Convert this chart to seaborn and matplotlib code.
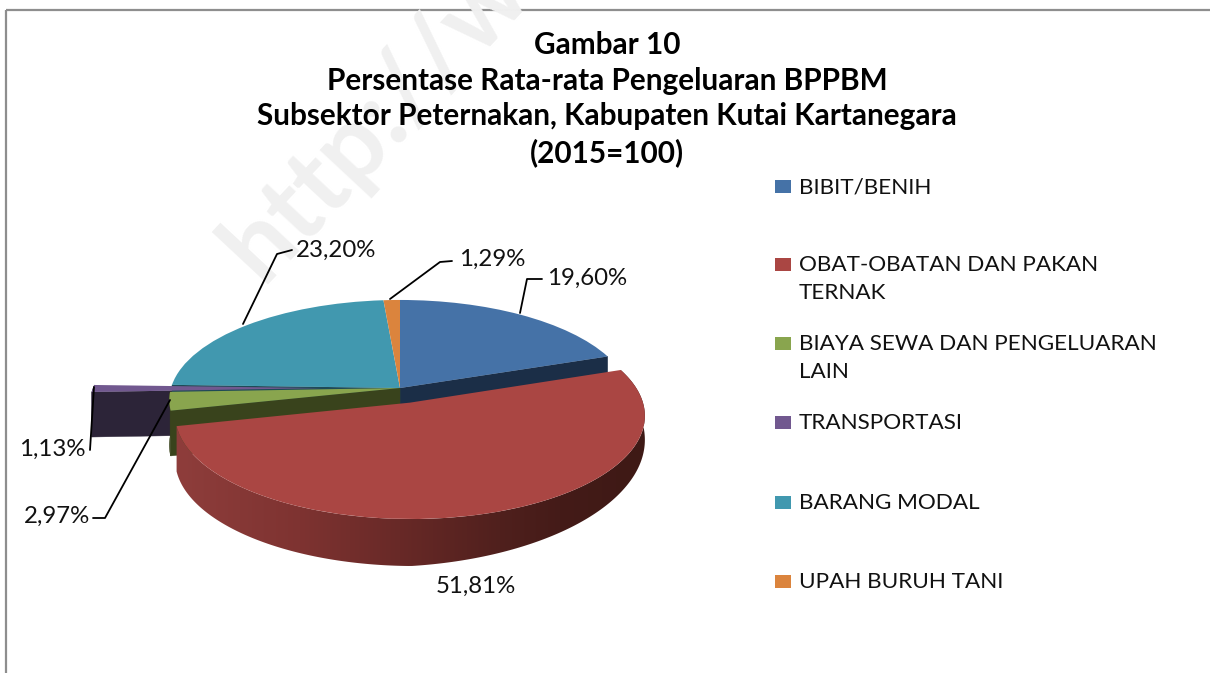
import numpy as np
import matplotlib
matplotlib.use("Agg")
import matplotlib.pyplot as plt
from matplotlib.transforms import Transform
from matplotlib.patches import Rectangle, Polygon
import seaborn as sns

categories = ["BIBIT/BENIH", "OBAT-OBATAN DAN PAKAN\nTERNAK",
              "BIAYA SEWA DAN PENGELUARAN\nLAIN", "TRANSPORTASI",
              "BARANG MODAL", "UPAH BURUH TANI"]
values = [19.60, 51.81, 2.97, 1.13, 23.20, 1.29]
explode = [0, 0.152, 0, 0.34, 0, 0]
top_colors = ["#4572A7", "#AA4643", "#89A54E", "#71588F", "#4198AF", "#DB843D"]
wall_colors = ["#1B2E47", "#8A3A38", "#39431C", "#2C2438", "#1F4A56", "#6B3F1C"]
title_text = ("Gambar 10\nPersentase Rata-rata Pengeluaran BPPBM\n"
              "Subsektor Peternakan, Kabupaten Kutai Kartanegara\n(2015=100)")

CX, CY, RX, RY, K = 400.0, 388.0, 229.0, 98.6, 0.12

sns.set_theme(style="white")
plt.rcParams["font.family"] = ["Lato", "DejaVu Sans"]


class Perspective(Transform):
    input_dims = 2
    output_dims = 2
    is_separable = False
    has_inverse = False

    def transform_non_affine(self, xy):
        xy = np.asarray(xy, float)
        w = 1 + K * xy[:, 1]
        return np.column_stack([CX + RX * xy[:, 0] / w, CY - RY * xy[:, 1] / w])


persp = Perspective()
fig = plt.figure(figsize=(12.10, 6.73), dpi=100, facecolor="white")
ax = fig.add_axes([0, 0, 1, 1])

wedges, _ = ax.pie(values, explode=explode, startangle=90, counterclock=False,
                   colors=sns.color_palette(top_colors), radius=1,
                   wedgeprops=dict(linewidth=0))
ax.set_aspect("auto")
ax.axis("off")

# Frame
ax.add_patch(Rectangle((6, 10), 1400, 900, fill=False, ec="#8E8E8E", lw=1.6, zorder=0))

# Watermark
ax.text(262, 284, "http://w", rotation=47, rotation_mode="anchor", ha="left", va="baseline",
        fontsize=74, fontweight="bold", color="#F0F0F0", zorder=0.5, clip_on=True)


def depth(theta):
    return np.interp(theta, [-180, -90, -30, 0, 20], [45, 47, 30, 22, 18])


def proj(u, v):
    return persp.transform_non_affine(np.column_stack([u, v]))


bounds = 90 - np.cumsum([0] + values) * 3.6
mids = (bounds[:-1] + bounds[1:]) / 2
offsets = [(e * np.cos(np.radians(m)), e * np.sin(np.radians(m))) for e, m in zip(explode, mids)]


def cut_wall(i, theta, z):
    ou, ov = offsets[i]
    t = np.linspace(0, 1, 30)
    a = np.radians(theta)
    pts = proj(ou + t * np.cos(a), ov + t * np.sin(a))
    d = 17 + (depth(theta) - 17) * np.minimum(1, 2 * t)
    xs = np.r_[pts[:, 0], pts[::-1, 0]]
    ys = np.r_[pts[:, 1], (pts[:, 1] + d)[::-1]]
    ax.fill(xs, ys, color=wall_colors[i], lw=0.3, zorder=z)


def rim_polygon(i):
    ou, ov = offsets[i]
    th = np.linspace(bounds[i], bounds[i + 1], 240)
    a = np.radians(th)
    pts = proj(ou + np.cos(a), ov + np.sin(a))
    lower = pts + np.column_stack([np.zeros_like(th), depth(th)])
    return np.vstack([pts, lower[::-1]])


def rim_wall(i, z):
    p = rim_polygon(i)
    ax.fill(p[:, 0], p[:, 1], color=wall_colors[i], lw=0.3, zorder=z)


def red_gradient(z):
    stops = np.array([180, 300, 400, 500, 560, 645])
    xs = np.arange(170, 651)
    rgb = np.column_stack([
        np.interp(xs, stops, [0x8E, 0x7E, 0x68, 0x50, 0x44, 0x3E]),
        np.interp(xs, stops, [0x3D, 0x33, 0x29, 0x20, 0x1B, 0x19]),
        np.interp(xs, stops, [0x3B, 0x31, 0x27, 0x1D, 0x18, 0x15]),
    ]) / 255
    im = ax.imshow(rgb[np.newaxis, :, :], extent=(170, 650, 600, 350), aspect="auto",
                   interpolation="bilinear", zorder=z)
    clip = Polygon(rim_polygon(1), closed=True, transform=ax.transData)
    im.set_clip_path(clip)


# Painter's order: back walls first
cut_wall(0, bounds[1], 2)
cut_wall(3, bounds[3], 2)
rim_wall(3, 2)
cut_wall(4, bounds[4], 2.5)
cut_wall(2, bounds[2], 3)
rim_wall(2, 3)

order_z = {4: 4, 5: 4, 0: 4, 3: 4.5, 2: 5, 1: 7}
for i, w in enumerate(wedges):
    w.set_transform(persp + ax.transData)
    w.set_zorder(order_z[i])
red_gradient(6)

ax.set_xlim(0, 1210)
ax.set_ylim(673, 0)

# Data labels and leader lines
labels = [f"{v:.2f}%".replace(".", ",") for v in values]
label_fs = 17.3
label_pos = [(547, 278, "left"), (476, 586, "center"), (90, 516, "right"),
             (86, 449, "right"), (296, 250, "left"), (459, 259, "left")]
leaders = [([520, 527, 542], [313, 279, 279]), None,
           ([170, 105, 93], [400, 518, 518]), ([94, 90], [387, 450]),
           ([243, 277, 292], [324, 254, 250]), ([390, 440, 452], [299, 262, 261])]
for lab, (x, y, ha), ld in zip(labels, label_pos, leaders):
    ax.text(x, y, lab, ha=ha, va="center", fontsize=label_fs, color="#111111", zorder=9)
    if ld:
        ax.plot(ld[0], ld[1], color="black", lw=1.3, zorder=8)

# Legend
leg_y = [186, 264, 343, 422, 502, 581]
for c, lab, y in zip(top_colors, categories, leg_y):
    ax.add_patch(Rectangle((775, y - 6), 16, 13, fc=c, ec="none", zorder=9))
    ax.text(799, y - 9, lab, ha="left", va="top", fontsize=16.2, color="#111111",
            linespacing=1.52, zorder=9)

# Title
ax.text(607, 99, title_text, ha="center", va="center", fontsize=21.4, fontweight="bold",
        color="black", linespacing=1.33, zorder=9)

fig.savefig("out.png", dpi=100)
